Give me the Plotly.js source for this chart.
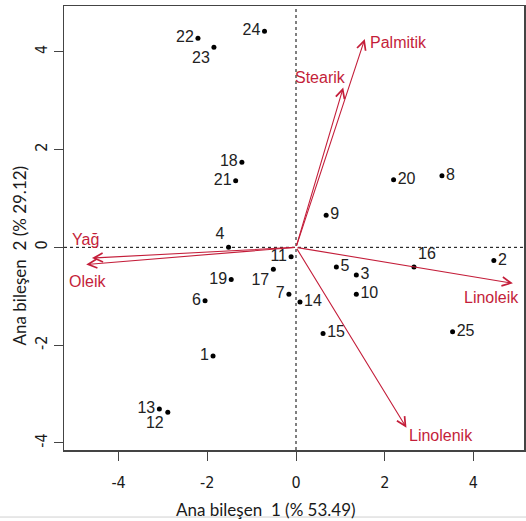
<!DOCTYPE html>
<html>
<head>
<meta charset="utf-8">
<script src="https://cdn.plot.ly/plotly-3.0.1.min.js"></script>
<style>html,body{margin:0;padding:0;background:#fff;}#chart{width:526px;height:521px;}</style>
</head>
<body>
<div id="chart"></div>
<script>
// Sample scores (PC1, PC2)
const sampleLabels = ["1","2","3","4","5","6","7","8","9","10","11","12","13","14","15","16","17","18","19","20","21","22","23","24","25"];
const pc1Scores = [-1.87, 4.46, 1.36, -1.52, 0.91, -2.05, -0.16, 3.29, 0.68, 1.36, -0.11, -2.89, -3.08, 0.09, 0.61, 2.66, -0.51, -1.22, -1.46, 2.20, -1.36, -2.21, -1.85, -0.71, 3.53];
const pc2Scores = [-2.22, -0.27, -0.565, 0.0, -0.40, -1.09, -0.96, 1.465, 0.655, -0.96, -0.19, -3.37, -3.305, -1.12, -1.76, -0.40, -0.45, 1.74, -0.66, 1.38, 1.36, 4.275, 4.09, 4.42, -1.725];

// Variable loadings (arrow tips)
const varNames = ["Palmitik", "Stearik", "Yağ", "Oleik", "Linoleik", "Linolenik"];
const varPC1 = [1.55, 1.065, -4.60, -4.73, 4.89, 2.49];
const varPC2 = [4.26, 3.27, -0.22, -0.35, -0.735, -3.69];

// Tick values
const xTicks = [-4, -2, 0, 2, 4];
const yTicks = [-4, -2, 0, 2, 4];

// Label placement styles
const labelPos = ["middle left","middle right","middle right","top left","middle right","middle left","middle left","middle right","middle right","middle right","middle left","bottom left","middle left","middle right","middle right","top right","bottom left","middle left","middle left","middle right","middle left","middle left","bottom left","middle left","middle right"];
const varLabelStyle = [
  {xanchor:"left", xshift:3, yshift:-3},
  {xanchor:"right", xshift:5, yshift:10},
  {xanchor:"center", xshift:-6, yshift:19},
  {xanchor:"center", xshift:1, yshift:-17},
  {xanchor:"right", xshift:8, yshift:-14},
  {xanchor:"left", xshift:1, yshift:-8}
];

const RED = "#C41E3A";
const numFont = "DejaVu Sans Condensed, Lato, sans-serif";
const titleFont = "Lato, sans-serif";

const traces = [{
  type: "scatter",
  mode: "markers+text",
  x: pc1Scores,
  y: pc2Scores,
  text: sampleLabels,
  textposition: labelPos,
  textfont: {family: "Liberation Sans, Arial, sans-serif", size: 16, color: "#222"},
  marker: {color: "#000", size: 5},
  hoverinfo: "skip",
  cliponaxis: false
}];

const annotations = [];
varNames.forEach((n, i) => {
  annotations.push({
    x: varPC1[i], y: varPC2[i], xref: "x", yref: "y",
    ax: 0, ay: 0, axref: "x", ayref: "y",
    showarrow: true, arrowhead: 5, arrowsize: 1.6, arrowwidth: 1.1,
    arrowcolor: RED, text: "", standoff: 0, startstandoff: 0
  });
  const s = varLabelStyle[i];
  annotations.push({
    x: varPC1[i], y: varPC2[i], xref: "x", yref: "y",
    text: n, showarrow: false,
    xanchor: s.xanchor, yanchor: "middle", xshift: s.xshift, yshift: s.yshift,
    font: {family: "Liberation Sans, Arial, sans-serif", size: 16, color: RED}
  });
});
annotations.push({
  xref: "paper", yref: "paper", x: 0.44, y: -0.135, xanchor: "center", yanchor: "middle",
  text: "Ana bileşen  1 (% 53.49)", showarrow: false,
  font: {family: titleFont, size: 17, color: "#1a1a1a"}
});
annotations.push({
  xref: "paper", yref: "paper", x: -0.097, y: 0.439, xanchor: "center", yanchor: "middle",
  text: "Ana bileşen  2 (% 29.12)", showarrow: false, textangle: -90,
  font: {family: titleFont, size: 17, color: "#1a1a1a"}
});

const layout = {
  width: 526, height: 521,
  margin: {l: 64, r: 2, t: 6, b: 71},
  paper_bgcolor: "#fff", plot_bgcolor: "#fff",
  showlegend: false,
  xaxis: {
    range: [-5.23, 5.14], tickvals: xTicks, ticktext: xTicks.map(String),
    ticks: "outside", ticklen: 9, tickwidth: 1, tickcolor: "#444",
    showline: true, linecolor: "#444", linewidth: 1.5, mirror: true,
    showgrid: false, zeroline: false, ticklabelstandoff: 8,
    tickfont: {family: numFont, size: 16, color: "#1a1a1a"}
  },
  yaxis: {
    range: [-4.144, 4.935], tickvals: yTicks, ticktext: yTicks.map(String),
    ticks: "outside", ticklen: 9, tickwidth: 1, tickcolor: "#444",
    showline: true, linecolor: "#444", linewidth: 1.5, mirror: true,
    showgrid: false, zeroline: false, tickangle: -90, ticklabelstandoff: 0,
    tickfont: {family: numFont, size: 16, color: "#1a1a1a"}
  },
  shapes: [
    {type: "line", xref: "x", yref: "paper", x0: 0, x1: 0, y0: 0, y1: 1, line: {color: "#000", width: 1, dash: "dot"}, layer: "below"},
    {type: "line", xref: "paper", yref: "y", x0: 0, x1: 1, y0: 0, y1: 0, line: {color: "#000", width: 1, dash: "dot"}, layer: "below"},
    {type: "line", xref: "paper", yref: "paper", x0: -0.14, x1: 1.005, y0: -0.151, y1: -0.151, line: {color: "#d0d0d0", width: 1}}
  ],
  annotations: annotations
};

Plotly.newPlot("chart", traces, layout, {displayModeBar: false, staticPlot: true});
</script>
</body>
</html>
